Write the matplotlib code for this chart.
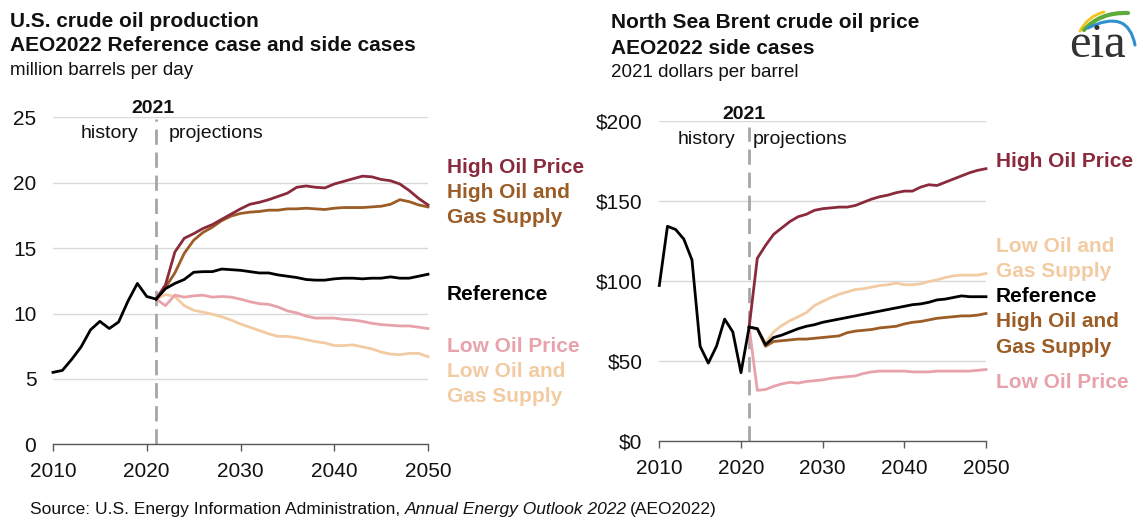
import matplotlib.pyplot as plt
from matplotlib.path import Path
from matplotlib.patches import PathPatch

plt.rcParams["font.family"] = ["Liberation Sans", "DejaVu Sans"]

W, H = 1137, 521

# ---- data: U.S. crude oil production (million barrels per day) ----
hist_years = list(range(2010, 2022))
proj_years = list(range(2021, 2051))

prod_hist = [5.5, 5.65, 6.5, 7.45, 8.75, 9.4, 8.85, 9.35, 10.95, 12.3, 11.3, 11.1]

prod_reference = [11.1, 11.9, 12.3, 12.6, 13.15, 13.2, 13.2, 13.4, 13.35, 13.3,
                  13.2, 13.1, 13.1, 12.95, 12.85, 12.75, 12.6, 12.55, 12.55, 12.65,
                  12.7, 12.7, 12.65, 12.7, 12.7, 12.8, 12.7, 12.7, 12.85, 13.0]
prod_high_price = [11.1, 12.2, 14.7, 15.75, 16.1, 16.5, 16.8, 17.2, 17.6, 18.0,
                   18.35, 18.5, 18.7, 18.95, 19.2, 19.65, 19.75, 19.65, 19.6, 19.9,
                   20.1, 20.3, 20.5, 20.45, 20.25, 20.15, 19.9, 19.4, 18.8, 18.3]
prod_high_supply = [11.1, 12.0, 13.1, 14.6, 15.6, 16.2, 16.6, 17.1, 17.45, 17.65,
                    17.75, 17.8, 17.9, 17.9, 18.0, 18.0, 18.05, 18.0, 17.95, 18.05,
                    18.1, 18.1, 18.1, 18.15, 18.2, 18.35, 18.7, 18.55, 18.3, 18.15]
prod_low_price = [11.1, 10.6, 11.4, 11.25, 11.35, 11.4, 11.25, 11.3, 11.25, 11.1,
                  10.9, 10.75, 10.7, 10.5, 10.2, 10.05, 9.8, 9.65, 9.65, 9.65,
                  9.55, 9.5, 9.4, 9.25, 9.15, 9.1, 9.05, 9.05, 8.95, 8.85]
prod_low_supply = [11.1, 11.45, 11.3, 10.6, 10.25, 10.1, 9.95, 9.75, 9.5, 9.2,
                   8.95, 8.7, 8.45, 8.25, 8.25, 8.15, 8.0, 7.85, 7.75, 7.55,
                   7.55, 7.6, 7.45, 7.3, 7.05, 6.9, 6.85, 6.95, 6.95, 6.7]

# ---- data: North Sea Brent price (2021 dollars per barrel) ----
brent_hist = [97, 134, 132, 126, 113, 59, 48.5, 59, 76, 68, 42.5, 71]

brent_reference = [71, 70, 60, 64.5, 66, 68, 70, 71.5, 72.5, 74,
                   75, 76, 77, 78, 79, 80, 81, 82, 83, 84,
                   85, 85.5, 86.5, 88, 88.5, 89.5, 90.5, 90, 90, 90]
brent_high_price = [71, 114, 122, 129, 133, 137, 140, 141.5, 144, 145,
                    145.5, 146, 146, 147, 149, 151, 152.5, 153.5, 155, 156,
                    156, 158.5, 160, 159.5, 161.5, 163.5, 165.5, 167.5, 169, 170]
brent_low_supply = [71, 70, 61, 68, 72, 75, 77.5, 80, 84.5, 87,
                    89.5, 91.5, 93, 94.5, 95, 96, 97, 97.5, 98.5, 97.5,
                    97.5, 98, 99.5, 100.5, 102, 103, 103.5, 103.5, 103.5, 104.5]
brent_high_supply = [71, 70, 59, 62, 62.5, 63, 63.5, 63.5, 64, 64.5,
                     65, 65.5, 67.5, 68.5, 69, 69.5, 70.5, 71, 71.5, 73,
                     74, 74.5, 75.5, 76.5, 77, 77.5, 78, 78, 78.5, 79.5]
brent_low_price = [71, 31.5, 32, 34, 35.5, 36.5, 36, 37, 37.5, 38,
                   39, 39.5, 40, 40.5, 42, 43, 43.5, 43.5, 43.5, 43.5,
                   43, 43, 43, 43.5, 43.5, 43.5, 43.5, 43.5, 44, 44.5]

C_HIGH_PRICE = "#8a2a3c"
C_HIGH_SUPPLY = "#9c5c26"
C_REF = "#000000"
C_LOW_PRICE = "#e8a2ab"
C_LOW_SUPPLY = "#f2cba2"
GRID = "#d9d9d9"
AXIS = "#595959"
TXT = "#111111"
DASH = "#a6a6a6"


def fx(x):
    return x / W


def fy(y):
    return 1 - y / H


def style_axes(ax, yticks, ylabels, ylim):
    ax.set_xlim(2010, 2050)
    ax.set_ylim(*ylim)
    ax.set_xticks([2010, 2020, 2030, 2040, 2050])
    ax.set_yticks(yticks)
    ax.set_yticklabels(ylabels)
    for s in ["top", "right", "left"]:
        ax.spines[s].set_visible(False)
    ax.spines["bottom"].set_color(AXIS)
    ax.spines["bottom"].set_linewidth(1.0)
    ax.tick_params(axis="x", length=5, width=1, color=AXIS, pad=8,
                   labelsize=15, labelcolor=TXT)
    ax.tick_params(axis="y", length=0, pad=12, labelsize=15, labelcolor=TXT)
    ax.grid(axis="y", color=GRID, linewidth=1)
    ax.set_axisbelow(True)


fig = plt.figure(figsize=(W / 100, H / 100), dpi=100)
lw = 2.0

# ---------------- left panel ----------------
ax1 = fig.add_axes([fx(53), fy(444.3), fx(428) - fx(53), fy(117.3) - fy(444.3)])
style_axes(ax1, [0, 5, 10, 15, 20, 25], ["0", "5", "10", "15", "20", "25"], (0, 25))
ax1.axvline(2021, ymin=0, ymax=0.995, color=DASH, lw=2.0, dashes=(5.5, 2.8),
            zorder=1, clip_on=False)
ax1.plot(proj_years, prod_low_supply, color=C_LOW_SUPPLY, lw=lw, clip_on=False)
ax1.plot(proj_years, prod_low_price, color=C_LOW_PRICE, lw=lw, clip_on=False)
ax1.plot(proj_years, prod_high_supply, color=C_HIGH_SUPPLY, lw=lw, clip_on=False)
ax1.plot(proj_years, prod_high_price, color=C_HIGH_PRICE, lw=lw, clip_on=False)
ax1.plot(proj_years, prod_reference, color=C_REF, lw=lw, clip_on=False)
ax1.plot(hist_years, prod_hist, color=C_REF, lw=lw, clip_on=False)

# ---------------- right panel ----------------
ax2 = fig.add_axes([fx(659.3), fy(440.7), fx(986) - fx(659.3), fy(120.7) - fy(440.7)])
style_axes(ax2, [0, 50, 100, 150, 200], ["$0", "$50", "$100", "$150", "$200"], (0, 200))
ax2.axvline(2021, ymin=0, ymax=0.98, color=DASH, lw=2.0, dashes=(5.5, 2.8),
            zorder=1, clip_on=False)
ax2.plot(proj_years, brent_low_price, color=C_LOW_PRICE, lw=lw, clip_on=False)
ax2.plot(proj_years, brent_low_supply, color=C_LOW_SUPPLY, lw=lw, clip_on=False)
ax2.plot(proj_years, brent_high_supply, color=C_HIGH_SUPPLY, lw=lw, clip_on=False)
ax2.plot(proj_years, brent_high_price, color=C_HIGH_PRICE, lw=lw, clip_on=False)
ax2.plot(proj_years, brent_reference, color=C_REF, lw=lw, clip_on=False)
ax2.plot(hist_years, brent_hist, color=C_REF, lw=lw, clip_on=False)


def ftext(x, y, s, **kw):
    return fig.text(fx(x), fy(y), s, va="baseline", **kw)


# titles
ftext(10, 27, "U.S. crude oil production", fontsize=15, fontweight="bold", color=TXT)
ftext(10, 51, "AEO2022 Reference case and side cases", fontsize=15, fontweight="bold", color=TXT)
ftext(10, 75, "million barrels per day", fontsize=13.5, color=TXT)

ftext(611, 28, "North Sea Brent crude oil price", fontsize=15, fontweight="bold", color=TXT)
ftext(611, 54, "AEO2022 side cases", fontsize=15, fontweight="bold", color=TXT)
ftext(611, 77, "2021 dollars per barrel", fontsize=13.5, color=TXT)

# history / projections annotations
ftext(153, 113, "2021", fontsize=14, fontweight="bold", color=TXT, ha="center")
ftext(138, 138, "history", fontsize=14, color=TXT, ha="right")
ftext(169, 138, "projections", fontsize=14, color=TXT, ha="left")

ftext(744, 119, "2021", fontsize=14, fontweight="bold", color=TXT, ha="center")
ftext(735, 144, "history", fontsize=14, color=TXT, ha="right")
ftext(753, 144, "projections", fontsize=14, color=TXT, ha="left")

# series labels
lab = dict(fontsize=15, fontweight="bold")
ftext(447, 173, "High Oil Price", color=C_HIGH_PRICE, **lab)
ftext(447, 198, "High Oil and", color=C_HIGH_SUPPLY, **lab)
ftext(447, 223, "Gas Supply", color=C_HIGH_SUPPLY, **lab)
ftext(447, 300, "Reference", color=C_REF, **lab)
ftext(447, 352, "Low Oil Price", color=C_LOW_PRICE, **lab)
ftext(447, 377, "Low Oil and", color=C_LOW_SUPPLY, **lab)
ftext(447, 402, "Gas Supply", color=C_LOW_SUPPLY, **lab)

ftext(996, 167, "High Oil Price", color=C_HIGH_PRICE, **lab)
ftext(996, 252, "Low Oil and", color=C_LOW_SUPPLY, **lab)
ftext(996, 277, "Gas Supply", color=C_LOW_SUPPLY, **lab)
ftext(996, 302, "Reference", color=C_REF, **lab)
ftext(996, 327, "High Oil and", color=C_HIGH_SUPPLY, **lab)
ftext(996, 353, "Gas Supply", color=C_HIGH_SUPPLY, **lab)
ftext(996, 388, "Low Oil Price", color=C_LOW_PRICE, **lab)

# source line: plain, italic title, plain
fig.canvas.draw()
r = fig.canvas.get_renderer()
t1 = ftext(30, 514, "Source: U.S. Energy Information Administration, ",
           fontsize=12.5, color=TXT)
x_end = t1.get_window_extent(r).x1
t2 = fig.text(x_end / W, fy(514), "Annual Energy Outlook 2022", fontsize=12.5,
              color=TXT, va="baseline", style="italic")
x_end = t2.get_window_extent(r).x1
fig.text((x_end + 3) / W, fy(514), "(AEO2022)", fontsize=12.5, color=TXT, va="baseline")

# eia logo
lg = fig.add_axes([0, 0, 1, 1], zorder=5)
lg.set_xlim(0, W)
lg.set_ylim(H, 0)
lg.axis("off")
lg.text(1069, 57, "eia", fontsize=35, family="Liberation Serif", color="#333333",
        va="baseline")
swooshes = [
    ([(1080, 31), (1088, 16), (1104, 12)], "#f2c318", 2.0),
    ([(1084, 30), (1100, 12), (1128, 13)], "#5dab3c", 3.0),
    ([(1088, 28), (1128, 8), (1135, 45)], "#2f8fcf", 2.2),
]
for pts, col, w in swooshes:
    path = Path(pts, [Path.MOVETO, Path.CURVE3, Path.CURVE3])
    lg.add_patch(PathPatch(path, fill=False, edgecolor=col, lw=w, capstyle="round"))

fig.savefig("out.png", dpi=100)
